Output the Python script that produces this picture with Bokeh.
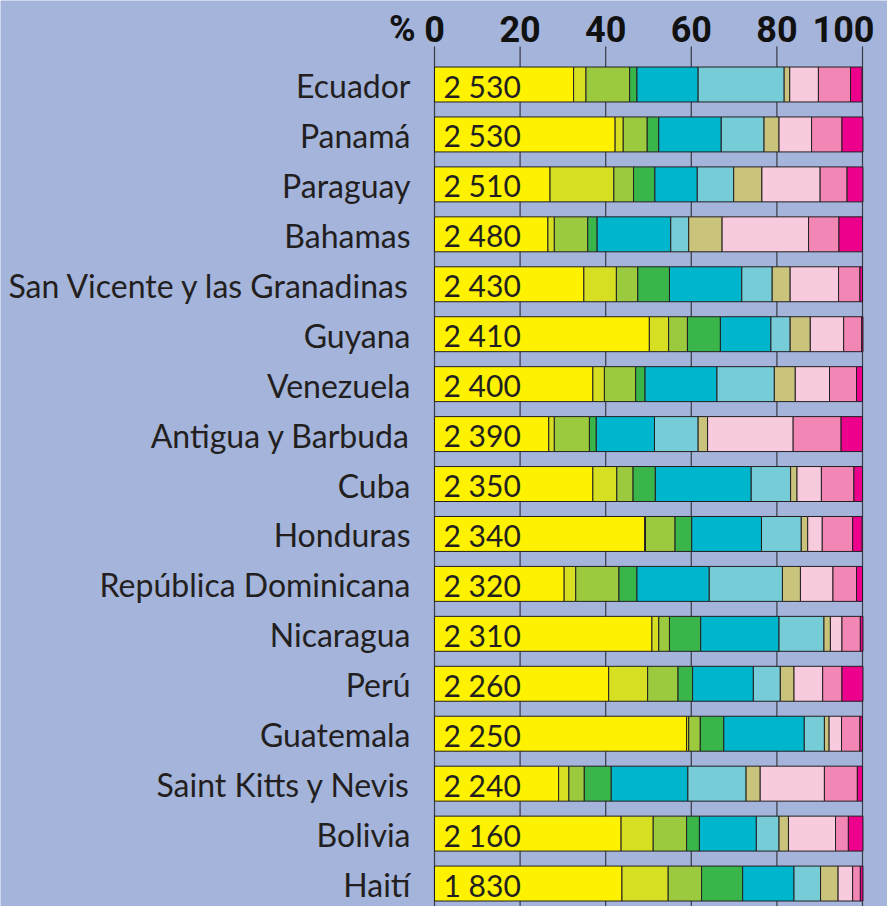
from bokeh.plotting import figure
from bokeh.models import ColumnDataSource, Range1d
from bokeh.core.properties import value
from bokeh.embed import file_html
from bokeh.resources import INLINE

# ---- data ----
countries = ["Ecuador", "Panamá", "Paraguay", "Bahamas", "San Vicente y las Granadinas",
             "Guyana", "Venezuela", "Antigua y Barbuda", "Cuba", "Honduras",
             "República Dominicana", "Nicaragua", "Perú", "Guatemala",
             "Saint Kitts y Nevis", "Bolivia", "Haití"]
totals = ["2 530", "2 530", "2 510", "2 480", "2 430", "2 410", "2 400", "2 390", "2 350",
          "2 340", "2 320", "2 310", "2 260", "2 250", "2 240", "2 160", "1 830"]

g1 = [32.5, 42.2, 27.0, 26.5, 34.9, 50.2, 37.0, 26.7, 37.0, 49.1, 30.3, 50.8, 40.7, 58.9, 29.0, 43.6, 43.8]
g2 = [2.9, 1.9, 14.9, 1.5, 7.6, 4.5, 2.7, 1.3, 5.6, 0.2, 2.7, 1.6, 9.1, 0.5, 2.4, 7.5, 10.8]
g3 = [10.2, 5.6, 4.6, 7.8, 5.0, 4.4, 7.3, 8.2, 3.8, 6.9, 10.1, 2.5, 7.1, 2.7, 3.6, 7.8, 7.8]
g4 = [1.7, 2.7, 5.0, 2.2, 7.4, 7.7, 2.2, 1.6, 5.2, 3.9, 4.2, 7.3, 3.4, 5.5, 6.3, 3.0, 9.6]
g5 = [14.3, 14.6, 9.9, 17.2, 16.9, 11.8, 16.8, 13.6, 22.4, 16.3, 16.9, 18.3, 14.2, 18.8, 17.9, 13.3, 12.0]
g6 = [20.1, 10.0, 8.5, 4.2, 7.1, 4.5, 13.4, 10.2, 9.2, 9.3, 17.1, 10.5, 6.3, 4.7, 13.6, 5.3, 6.2]
g7 = [1.3, 3.5, 6.6, 7.8, 4.2, 4.7, 4.9, 2.2, 1.5, 1.5, 4.2, 1.5, 3.2, 1.1, 3.3, 2.2, 4.1]
g8 = [6.7, 7.6, 13.6, 20.2, 11.3, 7.8, 8.0, 20.0, 5.7, 3.4, 7.6, 2.7, 6.7, 2.9, 15.0, 11.0, 3.4]
g9 = [7.5, 7.1, 6.3, 7.1, 5.0, 4.2, 6.3, 11.2, 7.6, 7.1, 5.5, 4.3, 4.5, 4.3, 7.7, 3.0, 1.8]
g10 = [2.7, 4.9, 3.7, 5.5, 0.6, 0.3, 1.4, 5.0, 2.0, 2.2, 1.4, 0.6, 4.9, 0.6, 1.2, 3.4, 0.6]

x_ticks = [0, 20, 40, 60, 80, 100]
x_tick_labels = ["0", "20", "40", "60", "80", "100"]
unit_label = "%"

# ---- styles / layout ----
BG = "#A4B4DB"
INK = "#231F20"
colors = ["#FFF200", "#D7DF23", "#9BCA3E", "#3AB54A", "#00B6CC",
          "#76CDD8", "#C9C37C", "#F8CADD", "#F287B5", "#EC008C"]
stackers = ["g1", "g2", "g3", "g4", "g5", "g6", "g7", "g8", "g9", "g10"]

W, H = 887, 906
X0_PX = 434            # pixel of 0 %
PX_PER_PCT = 4.28      # pixels per percent
PITCH = 49.94          # pixels per row
grid_top = -0.761      # data y where the grid lines start
top_val = grid_top - 46 / PITCH
bottom_val = top_val + H / PITCH
x_start = -X0_PX / PX_PER_PCT
x_end = x_start + W / PX_PER_PCT

ypos = list(range(len(countries)))
source = ColumnDataSource(dict(y=ypos, country=countries, total=totals,
                               g1=g1, g2=g2, g3=g3, g4=g4, g5=g5,
                               g6=g6, g7=g7, g8=g8, g9=g9, g10=g10))

p = figure(width=W, height=H, output_backend="svg", toolbar_location=None,
           x_range=Range1d(x_start, x_end), y_range=Range1d(bottom_val, top_val),
           x_axis_location=None, y_axis_location=None,
           min_border=0)
p.background_fill_color = BG
p.border_fill_color = BG
p.outline_line_color = None
p.grid.grid_line_color = None

# vertical grid lines (from just below the tick labels to the bottom)
p.segment(x0=x_ticks, x1=x_ticks, y0=[grid_top] * len(x_ticks), y1=[bottom_val] * len(x_ticks),
          line_color="#3A3A44", line_width=1.2)

p.hbar_stack(stackers, y="y", height=0.70, color=colors, source=source,
             line_color=INK, line_width=1)

# totals inside the bars
p.text(x=0, y="y", text="total", source=source, x_offset=9, y_offset=1,
       text_font=value("Lato"), text_font_size="30px", text_color=INK,
       text_baseline="middle", text_align="left")

# country names
p.text(x=0, y="y", text="country", source=source, x_offset=-24, y_offset=1,
       text_font=value("Lato"), text_font_size="32px", text_color=INK,
       text_baseline="middle", text_align="right")

# tick labels on top
label_y = top_val + 28 / PITCH
TICK_FONT = value("Roboto")
TICK_SIZE = "36px"
p.text(x=x_ticks[:-1], y=[label_y] * (len(x_ticks) - 1), text=x_tick_labels[:-1],
       text_font=TICK_FONT, text_font_style="bold", text_font_size=TICK_SIZE,
       text_color="#111111", text_align="center", text_baseline="middle")
p.text(x=x_ticks[-1:], y=[label_y], text=x_tick_labels[-1:], x_offset=12,
       text_font=TICK_FONT, text_font_style="bold", text_font_size=TICK_SIZE,
       text_color="#111111", text_align="right", text_baseline="middle")
p.text(x=x_ticks[:1], y=[label_y], text=[unit_label], x_offset=-19,
       text_font=TICK_FONT, text_font_style="bold", text_font_size=TICK_SIZE,
       text_color="#111111", text_align="right", text_baseline="middle")

open("out.html", "w").write(file_html(p, INLINE))
